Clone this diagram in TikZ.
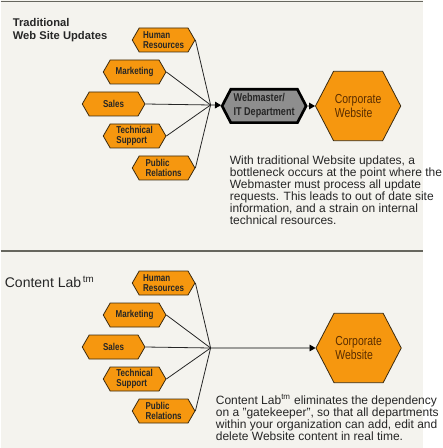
\documentclass[tikz,border=0pt]{standalone}
\usepackage{fontspec}
\setmainfont{Liberation Sans}
\newfontfamily\narrowfont[FakeStretch=0.8]{Liberation Sans}
\usepackage{tikz}
\usetikzlibrary{arrows.meta, positioning, shapes.symbols}
\usepackage{xcolor}
\definecolor{paperBg}{HTML}{F4F3EE}
\definecolor{ruleGrey}{HTML}{66665E}
\definecolor{deptOrange}{HTML}{F6970F}
\definecolor{edgeBrown}{HTML}{3A2A10}
\definecolor{webGrey}{HTML}{8E8E8E}
\definecolor{corpText}{HTML}{5A2D00}

\begin{document}
\begin{tikzpicture}[
        x=0.75pt, y=-0.75pt,
        dept/.style={draw=edgeBrown, line width=0.6pt, fill=deptOrange,
                     shape=signal, signal to=west and east, signal pointer angle=120,
                     minimum width=47pt, minimum height=18pt, inner sep=1pt, align=left,
                     font=\narrowfont\bfseries\fontsize{7.5}{7.3}\selectfont, text=black!85},
        webbox/.style={draw=black, line width=2pt, fill=webGrey,
                     shape=signal, signal to=west and east, signal pointer angle=125,
                     minimum width=63pt, minimum height=25pt, inner sep=1pt, align=left,
                     font=\narrowfont\bfseries\fontsize{8.5}{10.5}\selectfont, text=black!85},
        corp/.style={draw=edgeBrown, line width=0.6pt, fill=deptOrange,
                     shape=signal, signal to=west and east, signal pointer angle=125,
                     minimum width=59pt, minimum height=52pt, inner sep=1pt, align=left,
                     font=\narrowfont\fontsize{9.8}{10}\selectfont, text=corpText},
        spoke/.style={draw=black!85, line width=0.6pt},
        flow/.style={draw=black, line width=0.6pt, -{Triangle[length=4.5pt, width=5pt]}},
        note/.style={anchor=north west, align=left, inner sep=0pt,
                     font=\fontsize{9}{9}\selectfont, text=black!85},
        heading/.style={anchor=north west, align=left, inner sep=0pt, text=black!85}
      ]
      % paper and rules
      \fill[paperBg] (0,0) rectangle (422,448);
      \draw[ruleGrey, line width=0.9pt] (0,1.5) -- (422,1.5);
      \draw[ruleGrey, line width=0.9pt] (0,251) -- (422,251);

      % traditional updates
      \node[heading, font=\bfseries\fontsize{8.4}{9.75}\selectfont] (title1) at (12,18) {Traditional\\Web Site Updates};
      \node[dept] (hr1)    at (163,40)  {Human\\Resources};
      \node[dept] (mkt1)   at (134,72)  {Marketing};
      \node[dept] (sales1) at (113,104) {Sales};
      \node[dept] (tech1)  at (134,136) {Technical\\Support};
      \node[dept] (pr1)    at (163,168) {Public\\Relations};
      \coordinate (hub1) at (210,105);
      \node[webbox] (web)   at (263.5,106) {Webmaster/\\IT Department};
      \node[corp]   (corp1) at (357.5,106) {Corporate\\Website};
      \draw[spoke] (hr1.east) -- (hub1);
      \draw[spoke] (mkt1.east) -- (hub1);
      \draw[spoke] (sales1.east) -- (hub1);
      \draw[spoke] (tech1.east) -- (hub1);
      \draw[spoke] (pr1.east) -- (hub1);
      \draw[flow] (hub1) -- (web);
      \draw[flow] (web) -- (corp1);
      \node[note] (note1) at (229,156) {With traditional Website updates, a\\
        bottleneck occurs at the point where the\\
        Webmaster must process all update\\
        requests. This leads to out of date site\\
        information, and a strain on internal\\
        technical resources.};

      % content lab
      \node[heading, anchor=west, font=\fontsize{10.5}{12}\selectfont] (title2) at (4,282)
        {Content Lab\textsuperscript{\,tm}};
      \node[dept] (hr2)    at (163,283) {Human\\Resources};
      \node[dept] (mkt2)   at (134,315) {Marketing};
      \node[dept] (sales2) at (113,347) {Sales};
      \node[dept] (tech2)  at (134,379) {Technical\\Support};
      \node[dept] (pr2)    at (163,411) {Public\\Relations};
      \coordinate (hub2) at (210,348);
      \node[corp] (corp2) at (358,348) {Corporate\\Website};
      \draw[spoke] (hr2.east) -- (hub2);
      \draw[spoke] (mkt2.east) -- (hub2);
      \draw[spoke] (sales2.east) -- (hub2);
      \draw[spoke] (tech2.east) -- (hub2);
      \draw[spoke] (pr2.east) -- (hub2);
      \draw[flow] (hub2) -- (corp2);
      \node[note] (note2) at (215,394) {Content Lab\textsuperscript{tm} eliminates the dependency\\
        on a "gatekeeper", so that all departments\\
        within your organization can add, edit and\\
        delete Website content in real time.};
    \end{tikzpicture}
\end{document}
